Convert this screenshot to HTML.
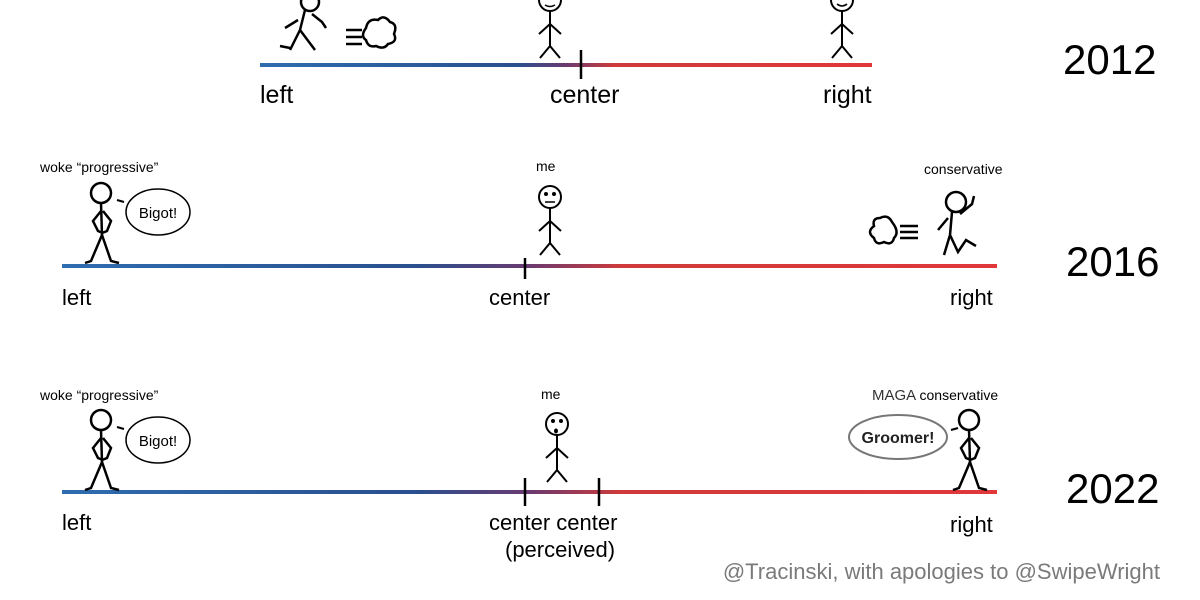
<!DOCTYPE html>
<html><head><meta charset="utf-8"><style>
html,body{margin:0;padding:0;background:#fff;}
svg{display:block;}
text{font-family:"Liberation Sans",sans-serif;}
</style></head><body>
<svg width="1200" height="600" viewBox="0 0 1200 600" xmlns="http://www.w3.org/2000/svg">
<defs>
<linearGradient id="g1" x1="260" x2="872" gradientUnits="userSpaceOnUse">
<stop offset="0" stop-color="#2e6db0"/><stop offset="0.42" stop-color="#2a4f8e"/><stop offset="0.5" stop-color="#6a3a70"/><stop offset="0.58" stop-color="#d03a3a"/><stop offset="1" stop-color="#e0383a"/></linearGradient>
<linearGradient id="g2" x1="62" x2="997" gradientUnits="userSpaceOnUse">
<stop offset="0" stop-color="#2e6db0"/><stop offset="0.38" stop-color="#2a4f8e"/><stop offset="0.5" stop-color="#6a3a70"/><stop offset="0.6" stop-color="#d03a3a"/><stop offset="1" stop-color="#e0383a"/></linearGradient>
<g id="me" fill="none" stroke="#000" stroke-width="2">
<circle cx="0" cy="0" r="11"/><line x1="0" y1="11" x2="0" y2="46"/><line x1="-11" y1="34" x2="0" y2="24"/><line x1="11" y1="34" x2="0" y2="24"/><line x1="0" y1="46" x2="-10" y2="58"/><line x1="0" y1="46" x2="10" y2="58"/>
<circle cx="-4" cy="-3" r="1" fill="#000"/><circle cx="4" cy="-3" r="1" fill="#000"/></g>
<g id="angry" fill="none" stroke="#000" stroke-width="2.5">
<circle cx="0" cy="0" r="10"/><line x1="0" y1="10" x2="1" y2="42"/><path d="M0 18 L-8 28 L-3 38 L2 40"/><path d="M2 18 L10 28 L6 38 L1 40"/><path d="M1 42 L-10 68 L-16 70"/><path d="M1 42 L10 68 L18 70"/></g>
</defs>

<!-- 2012 -->
<rect x="260" y="63" width="612" height="4" fill="url(#g1)"/>
<line x1="581" y1="50" x2="581" y2="79" stroke="#000" stroke-width="2.5"/>
<text x="260" y="103" font-size="25">left</text>
<text x="550" y="103" font-size="25">center</text>
<text x="823" y="103" font-size="25">right</text>
<text x="1063" y="74" font-size="42">2012</text>
<use href="#me" x="550" y="0"/>
<path d="M545 5 q5 3 10 0" fill="none" stroke="#000" stroke-width="1.5"/>
<use href="#me" x="842" y="0"/>
<path d="M837 4 q5 4 10 0" fill="none" stroke="#000" stroke-width="1.5"/>
<g fill="none" stroke="#000" stroke-width="2.5">
<circle cx="310" cy="2" r="9"/><path d="M305 10 L300 30 L290 50"/><path d="M300 30 L315 50"/><path d="M298 20 L285 28"/><path d="M312 14 L322 22 L326 28"/><path d="M290 48 L280 46"/>
<path d="M346 30 H362 M346 37 H362 M346 44 H362"/>
<path d="M366 28 q2 -10 12 -8 q6 -6 12 2 q8 2 4 12 q4 8 -6 10 q-4 6 -12 2 q-8 2 -10 -6 q-6 -4 0 -12z"/>
</g>

<!-- 2016 -->
<rect x="62" y="264" width="935" height="4" fill="url(#g2)"/>
<line x1="525" y1="258" x2="525" y2="279" stroke="#000" stroke-width="2.5"/>
<text x="62" y="305" font-size="22">left</text>
<text x="489" y="305" font-size="22">center</text>
<text x="950" y="305" font-size="22">right</text>
<text x="1066" y="276" font-size="42">2016</text>
<text x="40" y="172" font-size="14">woke “progressive”</text>
<text x="536" y="171" font-size="14">me</text>
<text x="924" y="174" font-size="14">conservative</text>
<use href="#angry" x="101" y="193"/>
<line x1="117" y1="200" x2="124" y2="202" stroke="#000" stroke-width="2"/>
<ellipse cx="158" cy="212" rx="32" ry="23" fill="none" stroke="#000" stroke-width="1.5"/>
<text x="158" y="218" font-size="15" text-anchor="middle">Bigot!</text>
<use href="#me" x="550" y="197"/>
<line x1="545" y1="202" x2="555" y2="202" stroke="#000" stroke-width="1.5"/>
<g fill="none" stroke="#000" stroke-width="2.5">
<circle cx="956" cy="202" r="10"/><path d="M952 212 L950 235 L944 255"/><path d="M950 235 L958 252 L966 240 L976 246"/><path d="M948 218 L938 230"/><path d="M960 214 L972 204 L974 196"/>
<path d="M900 226 H918 M900 232 H918 M900 238 H918"/>
<path d="M892 222 q-4 -8 -12 -4 q-8 0 -6 8 q-8 6 0 12 q2 8 10 4 q8 4 10 -4 q6 -6 -2 -16z"/>
</g>

<!-- 2022 -->
<rect x="62" y="490" width="935" height="4" fill="url(#g2)"/>
<line x1="525" y1="478" x2="525" y2="506" stroke="#000" stroke-width="2.5"/>
<line x1="599" y1="478" x2="599" y2="506" stroke="#000" stroke-width="2.5"/>
<text x="62" y="530" font-size="22">left</text>
<text x="489" y="530" font-size="22">center center</text>
<text x="505" y="557" font-size="22">(perceived)</text>
<text x="950" y="532" font-size="22">right</text>
<text x="1066" y="503" font-size="42">2022</text>
<text x="40" y="400" font-size="14">woke “progressive”</text>
<text x="541" y="399" font-size="14">me</text>
<text x="872" y="400" font-size="15" fill="#333">MAGA <tspan font-size="14" fill="#000">conservative</tspan></text>
<use href="#angry" x="101" y="420"/>
<line x1="117" y1="427" x2="124" y2="429" stroke="#000" stroke-width="2"/>
<ellipse cx="158" cy="440" rx="32" ry="23" fill="none" stroke="#000" stroke-width="1.5"/>
<text x="158" y="446" font-size="15" text-anchor="middle">Bigot!</text>
<use href="#me" x="557" y="424"/>
<ellipse cx="556" cy="431" rx="2" ry="2.5" fill="#000"/>
<use href="#angry" x="969" y="420"/>
<line x1="951" y1="430" x2="958" y2="428" stroke="#000" stroke-width="2"/>
<ellipse cx="898" cy="437" rx="49" ry="22" fill="none" stroke="#777" stroke-width="2"/>
<text x="898" y="443" font-size="16" font-weight="bold" text-anchor="middle" fill="#222">Groomer!</text>

<text x="1160" y="579" font-size="22" fill="#7a7a7a" text-anchor="end">@Tracinski, with apologies to @SwipeWright</text>
</svg>
</body></html>
